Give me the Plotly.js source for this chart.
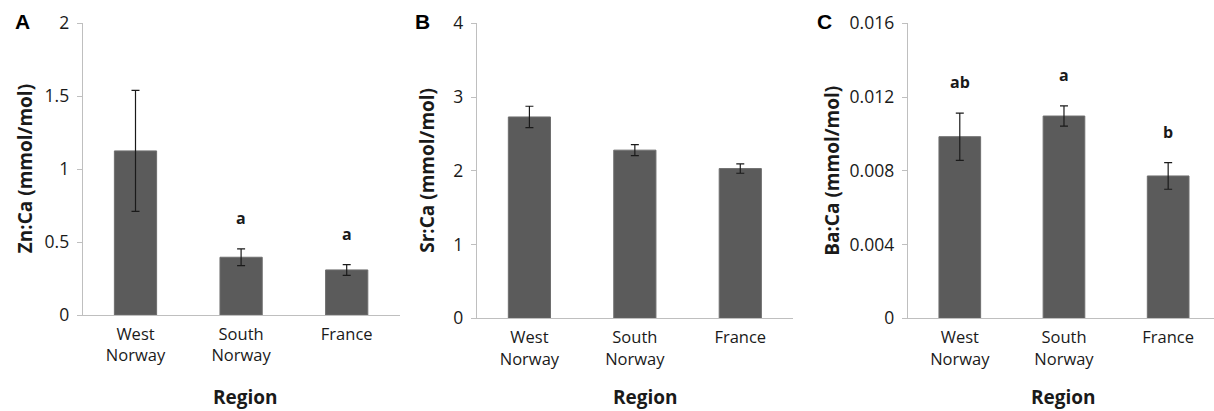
<!DOCTYPE html>
<html>
<head>
<meta charset="utf-8">
<script src="https://cdn.plot.ly/plotly-3.0.1.min.js"></script>
<style>html,body{margin:0;padding:0;background:#fff;}#chart{width:1214px;height:411px;}</style>
</head>
<body>
<div id="chart"></div>
<script>
// ---- data ----
const regions = ["West<br>Norway", "South<br>Norway", "France"];
const znCa = [1.125, 0.396, 0.309];
const znErr = [0.415, 0.057, 0.037];
const znLetters = ["", "a", "a"];
const srCa = [2.73, 2.28, 2.03];
const srErr = [0.145, 0.075, 0.063];
const srLetters = ["", "", ""];
const baCa = [0.00985, 0.01097, 0.00772];
const baErr = [0.00128, 0.00055, 0.00072];
const baLetters = ["ab", "a", "b"];
const panelLabels = ["A", "B", "C"];
const yTitles = ["Zn:Ca (mmol/mol)", "Sr:Ca (mmol/mol)", "Ba:Ca (mmol/mol)"];
const xTitle = "Region";
const yTicks = [[0, 0.5, 1, 1.5, 2], [0, 1, 2, 3, 4], [0, 0.004, 0.008, 0.012, 0.016]];
const yTickText = [["0", "0.5", "1", "1.5", "2"], ["0", "1", "2", "3", "4"], ["0", "0.004", "0.008", "0.012", "0.016"]];

// ---- layout helpers ----
const W = 1214, H = 411;
const px = v => v / W;
const py = v => 1 - v / H;
const FONT = "'Open Sans', Lato, sans-serif";
const BARC = "#5b5b5b";
const AXC = "#bfbfbf";
const TXT = "#1a1a1a";

const panels = [
  {vals: znCa, err: znErr, letters: znLetters, x0: 82.7, x1: 399.5, yt: 23.3, yb: 315, xr: [-0.5, 2.5], yr: [0, 2], ytx: 25, lx: 22, rx: 245},
  {vals: srCa, err: srErr, letters: srLetters, x0: 476.7, x1: 793, yt: 23.3, yb: 318.3, xr: [-0.5, 2.5], yr: [0, 4], ytx: 427, lx: 422, rx: 645},
  {vals: baCa, err: baErr, letters: baLetters, x0: 907.7, x1: 1214, yt: 23.3, yb: 318.3, xr: [-0.5, 2.44], yr: [0, 0.016], ytx: 832, lx: 824, rx: 1063}
];

const traces = [];
const layout = {
  width: W, height: H,
  margin: {l: 0, r: 0, t: 0, b: 0},
  paper_bgcolor: "#fff", plot_bgcolor: "rgba(0,0,0,0)",
  showlegend: false,
  bargap: 0.6,
  font: {family: FONT, color: TXT},
  annotations: []
};

panels.forEach((p, i) => {
  const n = i === 0 ? "" : String(i + 1);
  traces.push({
    type: "bar",
    x: regions, y: p.vals,
    xaxis: "x" + n, yaxis: "y" + n,
    marker: {color: BARC, line: {color: "#6e6e6e", width: 1}},
    error_y: {type: "data", array: p.err, visible: true, color: TXT, thickness: 1.2, width: 4},
    hoverinfo: "skip"
  });
  layout["xaxis" + n] = {
    domain: [px(p.x0), px(p.x1)], anchor: "y" + n,
    type: "category", range: p.xr, fixedrange: true,
    showline: true, linecolor: AXC, linewidth: 1,
    showgrid: false, zeroline: false,
    ticks: "outside", ticklen: 4, tickcolor: "rgba(0,0,0,0)",
    tickfont: {family: FONT, size: 16.5, color: TXT}
  };
  layout["yaxis" + n] = {
    domain: [py(p.yb), py(p.yt)], anchor: "x" + n,
    range: p.yr, fixedrange: true,
    tickvals: yTicks[i], ticktext: yTickText[i],
    showline: true, linecolor: AXC, linewidth: 1,
    showgrid: false, zeroline: false,
    ticks: "outside", ticklen: 5, tickcolor: AXC, tickwidth: 1,
    ticklabelstandoff: 4,
    tickfont: {family: FONT, size: 17.5, color: TXT}
  };
  // significance letters
  p.letters.forEach((t, k) => {
    if (!t) return;
    layout.annotations.push({
      xref: "x" + n, yref: "y" + n, x: regions[k], y: p.vals[k] + p.err[k],
      text: "<b>" + t + "</b>", showarrow: false, yanchor: "middle", yshift: 31,
      font: {family: FONT, size: 16, color: TXT}
    });
  });
  // panel label
  layout.annotations.push({
    xref: "paper", yref: "paper", x: px(p.lx), y: py(21),
    text: "<b>" + panelLabels[i] + "</b>", showarrow: false,
    xanchor: "center", yanchor: "middle",
    font: {family: "Arial, 'Liberation Sans', sans-serif", size: 21, color: "#000"}
  });
  // y title
  layout.annotations.push({
    xref: "paper", yref: "paper", x: px(p.ytx), y: py((p.yt + p.yb) / 2),
    text: "<b>" + yTitles[i] + "</b>", showarrow: false, textangle: -90,
    xanchor: "center", yanchor: "middle",
    font: {family: FONT, size: 19, color: TXT}
  });
  // x title
  layout.annotations.push({
    xref: "paper", yref: "paper", x: px(p.rx), y: py(397),
    text: "<b>" + xTitle + "</b>", showarrow: false,
    xanchor: "center", yanchor: "middle",
    font: {family: FONT, size: 19, color: TXT}
  });
});

Plotly.newPlot("chart", traces, layout, {displayModeBar: false, staticPlot: true});
</script>
</body>
</html>
